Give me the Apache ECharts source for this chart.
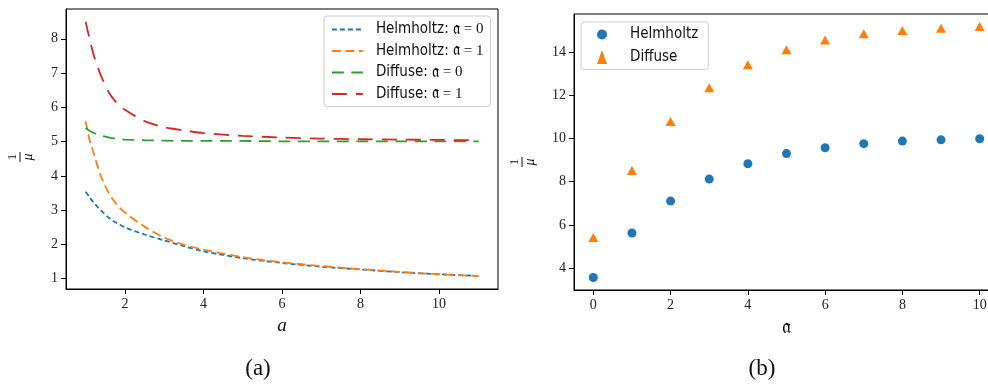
<!DOCTYPE html>
<html>
<head>
<meta charset="utf-8">
<script src="https://cdn.jsdelivr.net/npm/echarts@6/dist/echarts.min.js"></script>
<style>
html,body{margin:0;padding:0;background:#fff;}
#c{width:988px;height:385px;}
</style>
</head>
<body>
<div id="c"></div>
<script>
// ---- Panel (a) data ----
const xA = [1, 1.1, 1.2, 1.3, 1.4, 1.6, 1.8, 2, 2.5, 3, 3.5, 4, 5, 6, 7, 8, 9, 10, 11];
const helm0 = [3.54, 3.38, 3.23, 3.10, 2.98, 2.77, 2.62, 2.50, 2.29, 2.12, 1.95, 1.80, 1.60, 1.46, 1.35, 1.27, 1.19, 1.13, 1.08];
const helm1 = [5.60, 5.05, 4.68, 4.30, 3.96, 3.48, 3.15, 2.93, 2.52, 2.20, 1.99, 1.85, 1.63, 1.48, 1.37, 1.28, 1.20, 1.13, 1.08];
const diff0 = [5.40, 5.32, 5.26, 5.21, 5.17, 5.12, 5.08, 5.06, 5.04, 5.03, 5.02, 5.02, 5.02, 5.01, 5.01, 5.01, 5.01, 5.01, 5.01];
const diff1 = [8.50, 8.00, 7.55, 7.20, 6.90, 6.42, 6.12, 5.93, 5.60, 5.42, 5.33, 5.25, 5.17, 5.12, 5.09, 5.07, 5.06, 5.05, 5.04];
const namesA = ['Helmholtz:  𝔞 = 0', 'Helmholtz: 𝔞 = 1', 'Diffuse: 𝔞 = 0', 'Diffuse: 𝔞 = 1'];
const xTicksA = [2, 4, 6, 8, 10];
const yTicksA = [1, 2, 3, 4, 5, 6, 7, 8];

// ---- Panel (b) data ----
const frakB = [0, 1, 2, 3, 4, 5, 6, 7, 8, 9, 10];
const helmB = [3.56, 5.62, 7.10, 8.12, 8.83, 9.30, 9.57, 9.76, 9.88, 9.94, 9.99];
const diffB = [5.41, 8.52, 10.79, 12.35, 13.42, 14.11, 14.56, 14.85, 15.00, 15.11, 15.19];
const namesB = ['Helmholtz', 'Diffuse'];
const xTicksB = [0, 2, 4, 6, 8, 10];
const yTicksB = [4, 6, 8, 10, 12, 14];

const C = ['#1f77b4', '#ff7f0e', '#2ca02c', '#d62728'];
const SERIF = "'Liberation Serif','DejaVu Serif',serif";
const SANS = "'Liberation Sans Narrow','DejaVu Sans Condensed','Liberation Sans',sans-serif";
const pairs = (xs, ys) => xs.map((x, i) => [x, ys[i]]);

const chart = echarts.init(document.getElementById('c'), null, {renderer: 'canvas'});

function axisCommon(ticks) {
  return {
    axisLine: {show: true, onZero: false, lineStyle: {color: '#000', width: 1}},
    axisTick: {show: true, inside: false, length: 5, customValues: ticks, lineStyle: {color: '#000', width: 1}},
    axisLabel: {show: true, customValues: ticks, fontFamily: SERIF, fontSize: 14, color: '#222'},
    splitLine: {show: false}
  };
}

const dashes = [[5, 3], [9, 4.5], [12, 7.5], [15, 9]];
const seriesA = [helm0, helm1, diff0, diff1].map((ys, i) => ({
  name: namesA[i], type: 'line', xAxisIndex: 0, yAxisIndex: 0,
  data: pairs(xA, ys), smooth: 0.3, symbol: 'none', showSymbol: false,
  lineStyle: {color: C[i], width: 1.8, type: dashes[i]}, itemStyle: {color: C[i]},
  silent: true, animation: false
}));

const legendRich = {
  s: {fontFamily: SANS, fontSize: 15, color: '#111'},
  f: {fontFamily: SERIF, fontSize: 17, color: '#111'},
  m: {fontFamily: SERIF, fontSize: 15, color: '#111'}
};

function fraction(x, y) {
  return {
    type: 'group', x: x, y: y, rotation: Math.PI / 2,
    children: [
      {type: 'text', x: 0, y: -7, style: {text: '1', fontFamily: SERIF, fontSize: 13, fill: '#111', align: 'center', verticalAlign: 'middle'}},
      {type: 'line', shape: {x1: -5, y1: 0, x2: 5, y2: 0}, style: {stroke: '#111', lineWidth: 1}},
      {type: 'text', x: 0, y: 8, style: {text: 'μ', fontFamily: SERIF, fontStyle: 'italic', fontSize: 14, fill: '#111', align: 'center', verticalAlign: 'middle'}}
    ]
  };
}

const option = {
  backgroundColor: '#fff',
  animation: false,
  grid: [
    {left: 66, top: 9, right: 490, bottom: 96, show: true, borderColor: '#000', borderWidth: 1, containLabel: false, outerBoundsMode: 'none'},
    {left: 574, top: 14, right: -11, bottom: 95, show: true, borderColor: '#000', borderWidth: 1, containLabel: false, outerBoundsMode: 'none'}
  ],
  xAxis: [
    Object.assign({type: 'value', gridIndex: 0, min: 0.5, max: 11.5,
      name: 'a', nameLocation: 'middle', nameGap: 27,
      nameTextStyle: {fontFamily: SERIF, fontStyle: 'italic', fontSize: 19, color: '#111'}}, axisCommon(xTicksA)),
    Object.assign({type: 'value', gridIndex: 1, min: -0.5, max: 10.5,
      name: '𝔞', nameLocation: 'middle', nameGap: 26,
      nameTextStyle: {fontFamily: SERIF, fontSize: 21, color: '#111'}}, axisCommon(xTicksB))
  ],
  yAxis: [
    Object.assign({type: 'value', gridIndex: 0, min: 0.70, max: 8.87}, axisCommon(yTicksA)),
    Object.assign({type: 'value', gridIndex: 1, min: 2.98, max: 15.77}, axisCommon(yTicksB))
  ],
  legend: [
    {
      data: namesA, orient: 'vertical', left: 324, top: 16,
      padding: [5, 7, 4, 7], itemGap: 4.5, itemWidth: 31, itemHeight: 14,
      backgroundColor: 'rgba(255,255,255,0.85)', borderColor: '#ccc', borderWidth: 1, borderRadius: 3,
      lineStyle: {width: 1.8}, itemStyle: {opacity: 0}, selectedMode: false,
      textStyle: {padding: [0, 0, 0, 8], rich: legendRich},
      formatter: function (n) {
        const k = n.indexOf(':');
        const rest = n.slice(k + 1).trim();
        return '{s|' + n.slice(0, k + 1) + ' }{f|' + rest.slice(0, 2) + '}{m|' + rest.slice(2) + '}';
      }
    },
    {
      data: namesB, orient: 'vertical', left: 581, top: 22,
      padding: [5, 10, 5, 16], itemGap: 7.5, itemWidth: 10, itemHeight: 14,
      backgroundColor: 'rgba(255,255,255,0.85)', borderColor: '#ccc', borderWidth: 1, borderRadius: 3,
      selectedMode: false,
      textStyle: {padding: [0, 0, 0, 18], fontFamily: SANS, fontSize: 15, color: '#111'}
    }
  ],
  graphic: [
    fraction(20, 157),
    fraction(522, 162),
    {type: 'text', x: 258, y: 369, style: {text: '(a)', fontFamily: SERIF, fontSize: 23, fill: '#111', align: 'center', verticalAlign: 'middle'}},
    {type: 'text', x: 762, y: 369, style: {text: '(b)', fontFamily: SERIF, fontSize: 23, fill: '#111', align: 'center', verticalAlign: 'middle'}}
  ],
  series: seriesA.concat([
    {name: namesB[0], type: 'scatter', xAxisIndex: 1, yAxisIndex: 1, data: pairs(frakB, helmB),
      symbol: 'circle', symbolSize: 9, itemStyle: {color: C[0], opacity: 1}, silent: true},
    {name: namesB[1], type: 'scatter', xAxisIndex: 1, yAxisIndex: 1, data: pairs(frakB, diffB),
      symbol: 'triangle', symbolSize: [10, 9], itemStyle: {color: C[1], opacity: 1}, silent: true}
  ])
};
chart.setOption(option);
</script>
</body>
</html>
